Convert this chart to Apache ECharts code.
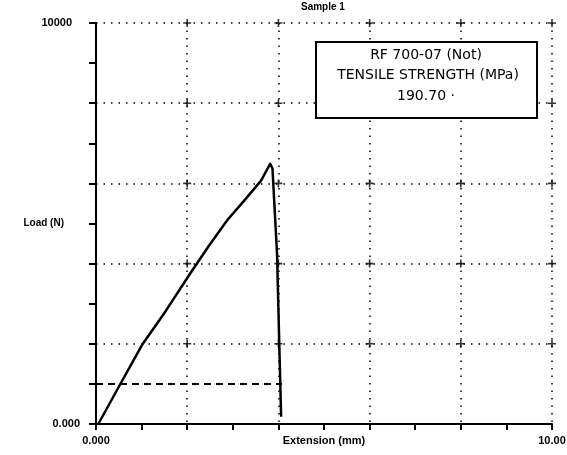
<!DOCTYPE html>
<html>
<head>
<meta charset="utf-8">
<style>
  html, body { margin: 0; padding: 0; background: #fff; }
  #chart { width: 567px; height: 455px; }
</style>
<script src="https://cdn.jsdelivr.net/npm/echarts@6/dist/echarts.min.js"></script>
</head>
<body>
<div id="chart"></div>
<script>
// load-extension curve
var extension = [0.05, 0.54, 1.02, 1.53, 2.04, 2.48, 2.89, 3.25, 3.62, 3.82, 3.87, 3.97, 4.02, 4.06];
var load = [0, 1010, 1990, 2820, 3710, 4450, 5100, 5570, 6070, 6490, 6370, 4250, 1960, 180];

// dashed reference line
var dashX = [0, 4.08];
var dashY = [1000, 1000];

// grid crossings
var xGrid = [2, 4, 6, 8, 10];
var yGrid = [2000, 4000, 6000, 8000, 10000];

var boxLines = ['RF 700-07 (Not)', 'TENSILE STRENGTH (MPa)', '190.70 \u00b7'];

var chart = echarts.init(document.getElementById('chart'));

var curve = extension.map(function (x, i) { return [x, load[i]]; });
var dash = dashX.map(function (x, i) { return [x, dashY[i]]; });
var crosses = [];
xGrid.forEach(function (x) {
  yGrid.forEach(function (y) { crosses.push([x, y]); });
});

var labelFont = { color: '#000', fontFamily: 'Liberation Sans', fontWeight: 'bold', fontSize: 11 };
var dotted = { color: '#000', width: 1.5, type: [1.5, 6] };

var option = {
  animation: false,
  backgroundColor: '#fff',
  grid: { left: 96, right: 15, top: 23, bottom: 31, containLabel: false, outerBoundsMode: 'none' },
  xAxis: {
    type: 'value', min: 0, max: 10, interval: 2,
    name: 'Extension (mm)', nameLocation: 'middle', nameGap: 11, nameMoveOverlap: false,
    nameTextStyle: labelFont,
    axisLine: { lineStyle: { color: '#000', width: 2 } },
    axisTick: { length: 6, lineStyle: { color: '#000', width: 2 } },
    minorTick: { show: true, splitNumber: 2, length: 6, lineStyle: { color: '#000', width: 2 } },
    axisLabel: Object.assign({ margin: 11, showMinLabel: true, showMaxLabel: true,
      formatter: function (v) { return v === 0 ? '0.000' : (v === 10 ? '10.00' : ''); } }, labelFont),
    splitLine: { show: true, lineStyle: dotted }
  },
  yAxis: {
    type: 'value', min: 0, max: 10000, interval: 2000,
    name: 'Load (N)', nameLocation: 'middle', nameGap: 32, nameRotate: 0, nameMoveOverlap: false,
    nameTextStyle: { color: '#000', fontFamily: 'Liberation Sans', fontWeight: 'bold', fontSize: 10, padding: [8, 0, 0, 0] },
    axisLine: { lineStyle: { color: '#000', width: 2 } },
    axisTick: { length: 7, lineStyle: { color: '#000', width: 2 } },
    minorTick: { show: true, splitNumber: 2, length: 7, lineStyle: { color: '#000', width: 2 } },
    axisLabel: Object.assign({ margin: 16,
      formatter: function (v) { return v === 0 ? '0.000' : (v === 10000 ? '{top|10000}' : ''); },
      rich: { top: { fontFamily: 'Liberation Sans', fontWeight: 'bold', fontSize: 11, color: '#000', padding: [0, 8, 0, 0] } }
    }, labelFont),
    splitLine: { show: true, lineStyle: dotted }
  },
  series: [
    {
      type: 'line', data: curve, showSymbol: false, z: 5,
      lineStyle: { color: '#000', width: 2.5, join: 'round' }
    },
    {
      type: 'line', data: dash, showSymbol: false,
      lineStyle: { color: '#000', width: 2, type: [7, 5] }
    },
    {
      type: 'scatter', data: crosses, symbolSize: 8,
      symbol: 'path://M4,0h2v4h4v2h-4v4h-2v-4h-4v-2h4z',
      itemStyle: { color: '#000' }
    }
  ],
  graphic: [
    {
      type: 'text', left: 301, top: 2,
      style: { text: 'Sample 1', font: 'bold 10px "Liberation Sans"', fill: '#000' }
    },
    {
      type: 'rect', shape: { x: 316, y: 42, width: 221, height: 76 },
      style: { fill: '#fff', stroke: '#000', lineWidth: 2 }, z: 10
    },
    {
      type: 'text', x: 426, y: 55, z: 11,
      style: { text: boxLines[0], font: '14px "DejaVu Sans"', fill: '#000', align: 'center', verticalAlign: 'middle' }
    },
    {
      type: 'text', x: 428, y: 75, z: 11,
      style: { text: boxLines[1], font: '14px "DejaVu Sans"', fill: '#000', align: 'center', verticalAlign: 'middle' }
    },
    {
      type: 'text', x: 426, y: 96, z: 11,
      style: { text: boxLines[2], font: '14px "DejaVu Sans"', fill: '#000', align: 'center', verticalAlign: 'middle' }
    }
  ]
};

chart.setOption(option);
</script>
</body>
</html>
